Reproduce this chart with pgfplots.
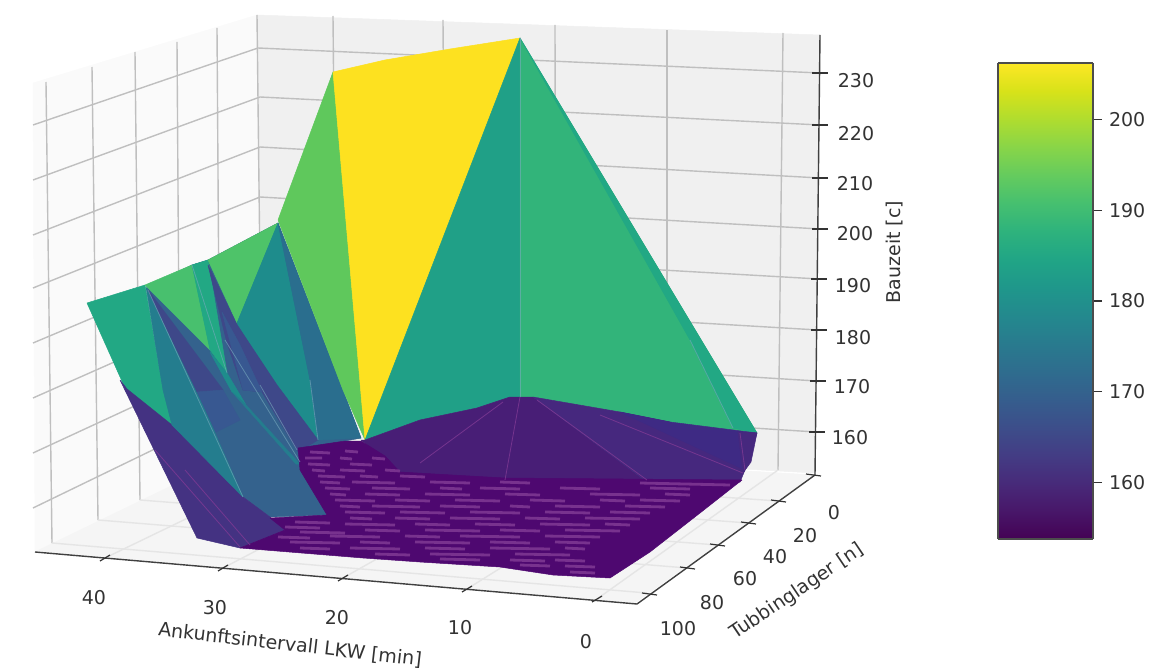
\documentclass[border=0pt]{standalone}
\usepackage{fontspec}
\setmainfont{DejaVu Sans}
\usepackage{pgfplots}
\pgfplotsset{compat=1.18}
\usepgfplotslibrary{colormaps}
\definecolor{vYel}{RGB}{253,225,32}
\definecolor{vLg}{RGB}{95,200,92}
\definecolor{vLg2}{RGB}{72,192,110}
\definecolor{vLg3}{RGB}{78,195,105}
\definecolor{vG}{RGB}{50,180,122}
\definecolor{vGt}{RGB}{32,160,135}
\definecolor{vGs}{RGB}{34,168,132}
\definecolor{vT}{RGB}{30,140,140}
\definecolor{vTb}{RGB}{36,125,142}
\definecolor{vB}{RGB}{42,110,142}
\definecolor{vMb}{RGB}{52,98,141}
\definecolor{vSp}{RGB}{56,88,145}
\definecolor{vBp}{RGB}{62,72,137}
\definecolor{vPb}{RGB}{68,50,130}
\definecolor{vP}{RGB}{72,30,118}
\definecolor{vP2}{RGB}{70,40,126}
\definecolor{vP3}{RGB}{62,42,132}
\definecolor{vD}{RGB}{78,8,112}
\definecolor{vS}{RGB}{128,58,148}
\definecolor{vLine}{RGB}{120,170,190}
\newcommand\poly[2]{\addplot[fill=#1,draw=#1,line width=0.25pt,line join=round] coordinates {#2} -- cycle;}
\newcommand\seg[3][gridL]{\addplot[#1] coordinates {#2 #3};}
\pgfplotsset{
 gridL/.style={draw=black!25,line width=0.7pt},
 gridF/.style={draw=black!10,line width=0.7pt},
 axL/.style={draw=black!75,line width=0.7pt},
 tk/.style={draw=black!80,line width=0.6pt},
 pl/.style={draw=vLine,line width=0.4pt,opacity=0.6},
 ppl/.style={draw=vS,line width=0.4pt,opacity=0.8},
}
\begin{document}
\begin{tikzpicture}
\path[use as bounding box] (0,0) rectangle (586.5pt,334pt);
\begin{axis}[
 at={(0pt,0pt)},anchor=south west,scale only axis,width=586.5pt,height=334pt,
 xmin=0,xmax=1173,ymin=0,ymax=668,y dir=reverse,hide axis,clip=false,
 every axis plot/.append style={mark=none},
 unbounded coords=jump,
]
% panes
\poly{black!2}{(33,83)(257,15)(262,442)(35,552)}
\poly{black!6}{(257,15)(820,35)(815,473)(262,442)}
\poly{black!4}{(262,442)(815,475)(635,603)(35,552)}
% left-pane grid
\seg{(46,82)}{(52,543)}
\seg{(92,67)}{(98,520)}
\seg{(135,52)}{(140,500)}
\seg{(177,42)}{(180,480)}
\seg{(217,28)}{(220,462)}
\seg{(257,15)}{(262,442)}
\seg{(33,125)}{(258,48)}
\seg{(33,180)}{(260,97)}
\seg{(33,235)}{(260,147)}
\seg{(33,288)}{(260,197)}
\seg{(33,343)}{(261,247)}
\seg{(33,398)}{(261,297)}
\seg{(33,453)}{(262,347)}
\seg{(33,508)}{(262,397)}
% right-pane grid
\seg{(258,48)}{(820,73)}
\seg{(260,97)}{(820,125)}
\seg{(260,147)}{(820,178)}
\seg{(260,197)}{(820,229)}
\seg{(261,247)}{(819,279)}
\seg{(261,297)}{(818,330)}
\seg{(262,347)}{(817,381)}
\seg{(262,397)}{(816,432)}
\seg{(333,16)}{(337,446)}
\seg{(443,20)}{(446,452)}
\seg{(555,25)}{(556,458)}
\seg{(667,30)}{(667,464)}
\seg{(783,33)}{(778,470)}
% floor grid
\seg[gridF]{(105,558)}{(337,446)}
\seg[gridF]{(223,568)}{(446,452)}
\seg[gridF]{(343,578)}{(556,458)}
\seg[gridF]{(467,589)}{(667,464)}
\seg[gridF]{(597,599)}{(778,470)}
\seg[gridF]{(647,593)}{(52,543)}
\seg[gridF]{(687,568)}{(98,520)}
\seg[gridF]{(717,545)}{(140,500)}
\seg[gridF]{(748,523)}{(180,480)}
\seg[gridF]{(778,501)}{(220,462)}
% axis lines and ticks
\seg[axL]{(35,552)}{(637,604)}
\seg[axL]{(637,604)}{(815,475)}
\seg[axL]{(820,35)}{(815,475)}
\seg[tk]{(100,561)}{(110,555)}
\seg[tk]{(218,571)}{(228,565)}
\seg[tk]{(338,581)}{(348,575)}
\seg[tk]{(462,592)}{(472,586)}
\seg[tk]{(592,602)}{(602,596)}
\seg[tk]{(642,593)}{(657,595)}
\seg[tk]{(680,567)}{(695,569)}
\seg[tk]{(710,544)}{(725,546)}
\seg[tk]{(741,522)}{(756,524)}
\seg[tk]{(771,500)}{(786,502)}
\seg[tk]{(806,474)}{(821,476)}
\seg[tk]{(812,73)}{(828,73)}
\seg[tk]{(812,125)}{(828,125)}
\seg[tk]{(812,178)}{(828,178)}
\seg[tk]{(812,229)}{(828,229)}
\seg[tk]{(811,279)}{(827,279)}
\seg[tk]{(811,330)}{(827,330)}
\seg[tk]{(810,381)}{(826,381)}
\seg[tk]{(809,432)}{(825,432)}
% surface: underlay of the left part
\poly{vMb}{(147,287)(192,265)(208,260)(278,223)(361,438)(298,450)(327,515)(270,517)(243,497)(172,425)(163,390)}
% surface: left part
\poly{vGs}{(87,303)(145,285)(163,390)(172,425)(125,388)}
\poly{vPb}{(120,380)(127,389)(172,425)(243,497)(270,517)(285,530)(240,548)(197,538)}
\poly{vLg2}{(145,285)(192,265)(210,350)}
\poly{vGs}{(192,265)(208,260)(227,373)(210,350)}
\poly{vLg3}{(208,260)(278,223)(237,323)}
\poly{vT}{(278,223)(237,323)(277,385)(318,440)(310,380)}
\poly{vB}{(278,223)(343,390)(361,438)(318,440)(310,380)}
\poly{vTb}{(146,287)(163,390)(172,425)(243,497)(197,392)}
\poly{vBp}{(148,290)(223,390)(197,392)}
\poly{vSp}{(197,392)(223,390)(240,420)(216,432)}
\poly{vT}{(210,352)(227,373)(246,405)(232,392)}
\poly{vBp}{(208,265)(237,325)(277,385)(318,440)(298,452)(262,392)(243,390)(227,343)}
\poly{vSp}{(222,312)(243,390)(262,392)(240,345)}
\poly{vTb}{(232,392)(246,405)(300,464)(296,464)}
\poly{vLg}{(278,220)(333,72)(365,440)(343,390)}
% surface: yellow and green faces
\poly{vYel}{(333,72)(385,60)(450,49)(520,38)(365,440)}
\poly{vGt}{(520,38)(365,440)(420,420)(477,408)(510,397)(520,397)}
\poly{vG}{(520,38)(520,397)(533,397)(620,412)(670,422)(757,433)}
\poly{vGs}{(520,38)(757,433)(733,428)(690,340)}
% surface: purple fan
\poly{vP}{(361,440)(365,440)(420,420)(477,408)(510,397)(520,397)(533,397)(647,482)(400,482)(385,460)}
\poly{vP2}{(533,397)(620,412)(670,422)(745,470)(740,482)(647,482)}
\poly{vP3}{(620,412)(670,422)(757,433)(745,470)}
\poly{vP2}{(738,432)(757,433)(751,462)(743,473)}
% surface: noisy floor
\poly{vD}{(298,448)(345,441)(361,441)(385,456)(400,472)(505,478)(742,480)(700,513)(650,552)(610,578)(553,575)(500,567)(420,562)(363,558)(240,548)(285,530)(270,518)(327,515)(300,470)}
% streaks
\addplot[draw=vS,line width=1.4pt,opacity=0.85] coordinates {
(310,452)(330,453)(0,nan)(345,451)(358,452)(0,nan)
(305,458)(322,458)(0,nan)(340,458)(352,459)(0,nan)(372,458)(385,459)(0,nan)
(308,464)(330,465)(0,nan)(350,464)(372,465)(0,nan)
(312,470)(325,471)(0,nan)(340,470)(365,471)(0,nan)(385,470)(400,471)(0,nan)
(318,476)(345,477)(0,nan)(360,476)(378,477)(0,nan)(400,476)(425,477)(0,nan)
(320,482)(340,483)(0,nan)(352,482)(395,483)(0,nan)(430,482)(470,483)(0,nan)(500,482)(530,483)(0,nan)(640,483)(730,485)(0,nan)
(325,488)(350,489)(0,nan)(372,488)(410,489)(0,nan)(440,488)(462,489)(0,nan)(480,488)(520,489)(0,nan)(560,488)(600,489)(0,nan)(650,488)(690,489)(0,nan)
(330,494)(346,495)(0,nan)(365,494)(400,495)(0,nan)(425,494)(470,495)(0,nan)(505,494)(540,495)(0,nan)(590,494)(640,495)(0,nan)(665,494)(690,495)(0,nan)
(335,500)(375,501)(0,nan)(395,500)(430,501)(0,nan)(455,500)(500,501)(0,nan)(530,500)(565,501)(0,nan)(600,500)(625,501)(0,nan)(640,500)(680,501)(0,nan)
(340,506)(360,507)(0,nan)(372,506)(420,507)(0,nan)(440,506)(480,507)(0,nan)(510,506)(530,507)(0,nan)(555,506)(600,507)(0,nan)(625,506)(665,507)(0,nan)
(345,512)(385,513)(0,nan)(400,512)(445,513)(0,nan)(470,512)(520,513)(0,nan)(545,512)(590,513)(0,nan)(610,512)(650,513)(0,nan)
(295,522)(330,523)(0,nan)(350,518)(372,519)(0,nan)(395,518)(430,519)(0,nan)(450,518)(500,519)(0,nan)(525,518)(560,519)(0,nan)(585,518)(640,519)(0,nan)
(285,527)(320,528)(0,nan)(345,524)(395,525)(0,nan)(415,524)(450,525)(0,nan)(475,524)(515,525)(0,nan)(540,524)(590,525)(0,nan)(605,524)(630,525)(0,nan)
(300,532)(345,533)(0,nan)(365,530)(400,531)(0,nan)(425,530)(480,531)(0,nan)(500,530)(540,531)(0,nan)(565,530)(620,531)(0,nan)
(278,537)(310,538)(0,nan)(330,536)(380,537)(0,nan)(405,536)(440,537)(0,nan)(460,536)(520,537)(0,nan)(545,536)(600,537)(0,nan)
(290,542)(340,543)(0,nan)(360,542)(390,543)(0,nan)(415,542)(470,543)(0,nan)(490,542)(530,543)(0,nan)(555,542)(590,543)(0,nan)
(300,548)(330,549)(0,nan)(350,548)(400,549)(0,nan)(425,548)(465,549)(0,nan)(490,548)(550,549)(0,nan)(565,548)(585,549)(0,nan)
(375,554)(410,555)(0,nan)(430,554)(490,555)(0,nan)(515,554)(570,555)(0,nan)
(440,559)(480,560)(0,nan)(510,560)(545,561)(0,nan)(555,560)(585,561)(0,nan)
(520,565)(550,566)(0,nan)(565,566)(595,567)(0,nan)
(570,572)(595,573)
};
% pale edges between faces
\seg[pl]{(148,290)}{(243,497)}
\seg[pl]{(192,265)}{(227,373)}
\seg[pl]{(225,340)}{(300,462)}
\seg[pl]{(260,385)}{(297,450)}
\seg[pl]{(310,380)}{(318,440)}
\seg[pl]{(520,38)}{(520,397)}
\seg[pl]{(690,340)}{(733,428)}
\seg[ppl]{(503,402)}{(420,463)}
\seg[ppl]{(520,397)}{(505,480)}
\seg[ppl]{(537,400)}{(647,480)}
\seg[ppl]{(600,415)}{(743,473)}
\seg[ppl]{(740,433)}{(745,470)}
\seg[ppl]{(155,450)}{(240,547)}
\seg[ppl]{(185,470)}{(250,545)}
% labels
\node[text=black!80,font=\fontsize{9.5}{11}\selectfont] at (axis cs:94,598) {40};
\node[text=black!80,font=\fontsize{9.5}{11}\selectfont] at (axis cs:215,608) {30};
\node[text=black!80,font=\fontsize{9.5}{11}\selectfont] at (axis cs:337,618) {20};
\node[text=black!80,font=\fontsize{9.5}{11}\selectfont] at (axis cs:460,628) {10};
\node[text=black!80,font=\fontsize{9.5}{11}\selectfont] at (axis cs:586,642) {0};
\node[text=black!80,font=\fontsize{9.5}{11}\selectfont] at (axis cs:678,629) {100};
\node[text=black!80,font=\fontsize{9.5}{11}\selectfont] at (axis cs:712,603) {80};
\node[text=black!80,font=\fontsize{9.5}{11}\selectfont] at (axis cs:745,579) {60};
\node[text=black!80,font=\fontsize{9.5}{11}\selectfont] at (axis cs:775,557) {40};
\node[text=black!80,font=\fontsize{9.5}{11}\selectfont] at (axis cs:805,536) {20};
\node[text=black!80,font=\fontsize{9.5}{11}\selectfont] at (axis cs:834,513) {0};
\node[text=black!80,font=\fontsize{9.5}{11}\selectfont] at (axis cs:856,81) {230};
\node[text=black!80,font=\fontsize{9.5}{11}\selectfont] at (axis cs:856,134) {220};
\node[text=black!80,font=\fontsize{9.5}{11}\selectfont] at (axis cs:855,184) {210};
\node[text=black!80,font=\fontsize{9.5}{11}\selectfont] at (axis cs:855,234) {200};
\node[text=black!80,font=\fontsize{9.5}{11}\selectfont] at (axis cs:853,286) {190};
\node[text=black!80,font=\fontsize{9.5}{11}\selectfont] at (axis cs:853,338) {180};
\node[text=black!80,font=\fontsize{9.5}{11}\selectfont] at (axis cs:852,387) {170};
\node[text=black!80,font=\fontsize{9.5}{11}\selectfont] at (axis cs:850,438) {160};
\node[text=black!80,font=\fontsize{9.5}{11}\selectfont,rotate=-6.6] at (axis cs:290,645) {Ankunftsintervall LKW [min]};
\node[text=black!80,font=\fontsize{9.5}{11}\selectfont,rotate=34] at (axis cs:797,592) {Tubbinglager [n]};
\node[text=black!80,font=\fontsize{9.5}{11}\selectfont,rotate=90] at (axis cs:895,252) {Bauzeit [c]};
\end{axis}
\begin{axis}[
 at={(499pt,64.5pt)},anchor=south west,scale only axis,width=47.5pt,height=238pt,
 view={0}{90},xmin=0,xmax=1,ymin=153.8,ymax=206.2,enlargelimits=false,
 xtick=\empty,ztick=\empty,ytick={160,170,180,190,200},
 ytick pos=right,yticklabel pos=right,tick align=outside,
 major tick length=4.5pt,axis on top,
 tick style={draw=black!80,line width=0.6pt},
 axis line style={draw=black!70,line width=0.6pt},
 colormap/viridis,
 /pgf/number format/assume math mode=true,
 yticklabel style={text=black!80,font=\fontsize{9.5}{11}\selectfont},
 point meta min=153.8,point meta max=206.2,
]
\addplot3[surf,shader=interp,point meta=z] coordinates {
(0,153.8,153.8) (1,153.8,153.8)

(0,180,180) (1,180,180)

(0,206.2,206.2) (1,206.2,206.2)
};
\end{axis}
\end{tikzpicture}
\end{document}
